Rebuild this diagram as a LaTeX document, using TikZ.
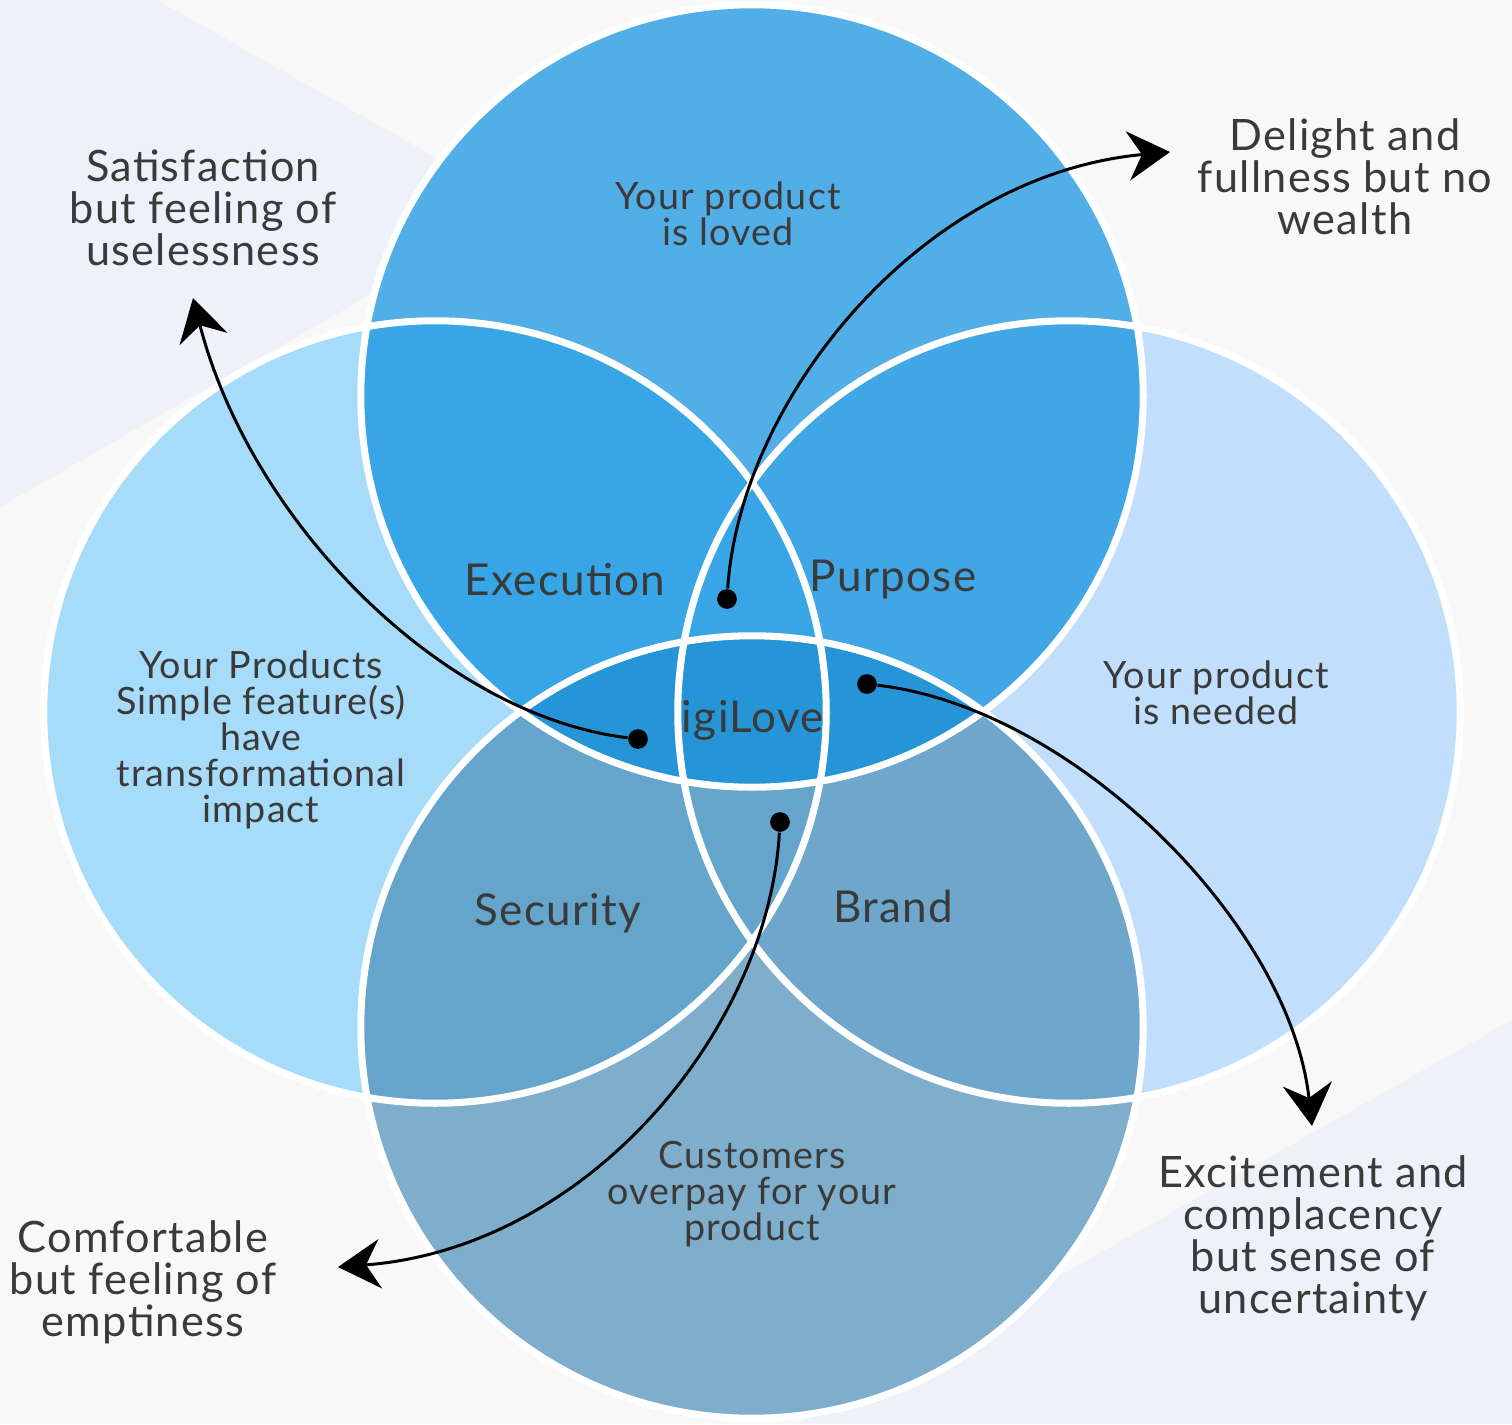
\documentclass[tikz,border=0pt]{standalone}
\usepackage{fontspec}
\setmainfont{Lato}[LetterSpace=3]
\usetikzlibrary{arrows.meta}

\definecolor{paper}{HTML}{F8F8F8}
\definecolor{haze}{HTML}{EEF1F8}
\definecolor{ink}{HTML}{3A3A3A}
\definecolor{lovedblue}{HTML}{51AEE6}
\definecolor{simpleblue}{HTML}{A6DBF9}
\definecolor{neededblue}{HTML}{C1DFFC}
\definecolor{paysblue}{HTML}{7EAECC}
\definecolor{execblue}{HTML}{38A6E6}
\definecolor{purpblue}{HTML}{40A6E6}
\definecolor{secublue}{HTML}{65A5CC}
\definecolor{brandblue}{HTML}{6EA6CC}
\definecolor{coreblue}{HTML}{2595D8}

\begin{document}
\begin{tikzpicture}[x=0.01cm, y=-0.01cm, line join=round,
    >={Stealth[length=12pt, width=14pt, inset=4pt]},
    dot/.style={circle, fill=black, inner sep=0pt, minimum size=5.6pt},
    ring/.style={draw=white, line width=2pt},
    outer/.style={align=center, text=ink, font=\fontsize{12.3}{11.95}\selectfont},
    inner/.style={text=ink, font=\fontsize{12.5}{12.5}\selectfont},
    small/.style={align=center, text=ink, font=\fontsize{10.7}{10.2}\selectfont},
    link/.style={->, line width=0.85pt}]
    \def\rad{3.91cm}

    % page and the two pale bands behind
    \useasboundingbox (0,0) rectangle (1512,1424);
    \fill[paper] (0,0) rectangle (1512,1424);
    \fill[haze] (0,0) -- (157,0) -- (523,207) -- (0,507) -- cycle;
    \fill[haze] (1512,1020) -- (798,1424) -- (1512,1424) -- cycle;

    % circle centres
    \coordinate (cTop) at (752,396);
    \coordinate (cLeft) at (435,712);
    \coordinate (cRight) at (1069,712);
    \coordinate (cBottom) at (752,1027);

    % the four circles
    \fill[lovedblue] (cTop) circle (\rad);
    \fill[simpleblue] (cLeft) circle (\rad);
    \fill[neededblue] (cRight) circle (\rad);
    \fill[paysblue] (cBottom) circle (\rad);

    % overlaps
    \begin{scope}
        \clip (cTop) circle (\rad);
        \fill[purpblue] (cRight) circle (\rad);
        \fill[execblue] (cLeft) circle (\rad);
        \fill[coreblue] (cBottom) circle (\rad);
    \end{scope}
    \begin{scope}
        \clip (cBottom) circle (\rad);
        \fill[brandblue] (cRight) circle (\rad);
        \fill[secublue] (cLeft) circle (\rad);
        \fill[coreblue] (cTop) circle (\rad);
    \end{scope}

    % white rims
    \foreach \c in {cTop, cLeft, cRight, cBottom}
        \draw[ring] (\c) circle (\rad);

    % texts inside the circles
    \node[small] (loved) at (728,214) {Your product\\is loved};
    \node[small] (needed) at (1216,693) {Your product\\is needed};
    \node[small] (simple) at (261,740) {Your Products\\Simple feature(s)\\have\\transformational\\impact};
    \node[small] (overpay) at (752,1194) {Customers\\overpay for your\\product};
    \node[inner] (execution) at (565,580) {Execution};
    \node[inner] (purpose) at (893,580) {Purpose};
    \node[inner] (security) at (558,913) {Security};
    \node[inner] (brand) at (893,906) {Brand};
    \node[inner] (core) at (753,720) {igiLove};

    % outcomes around the diagram
    \node[outer] (useless) at (203,208) {Satisfaction\\but feeling of\\uselessness};
    \node[outer] (delight) at (1345,177) {Delight and\\fullness but no\\wealth};
    \node[outer] (excite) at (1313,1238) {Excitement and\\complacency\\but sense of\\uncertainty};
    \node[outer] (comfort) at (143,1282) {Comfortable\\but feeling of\\emptiness};

    % dots and arrow ends
    \node[dot] (dUse) at (638,739) {};
    \node[dot] (dWealth) at (727,599) {};
    \node[dot] (dUnsure) at (867,684) {};
    \node[dot] (dEmpty) at (780,822) {};
    \coordinate (tUse) at (193,298);
    \coordinate (tWealth) at (1170,152);
    \coordinate (tUnsure) at (1312,1126);
    \coordinate (tEmpty) at (338,1267);

    \draw[link] (dUse) .. controls (440,715) and (250,520) .. (tUse);
    \draw[link] (dWealth) .. controls (740,400) and (920,175) .. (tWealth);
    \draw[link] (dUnsure) .. controls (1075,708) and (1290,925) .. (tUnsure);
    \draw[link] (dEmpty) .. controls (768,1030) and (588,1248) .. (tEmpty);
\end{tikzpicture}
\end{document}
